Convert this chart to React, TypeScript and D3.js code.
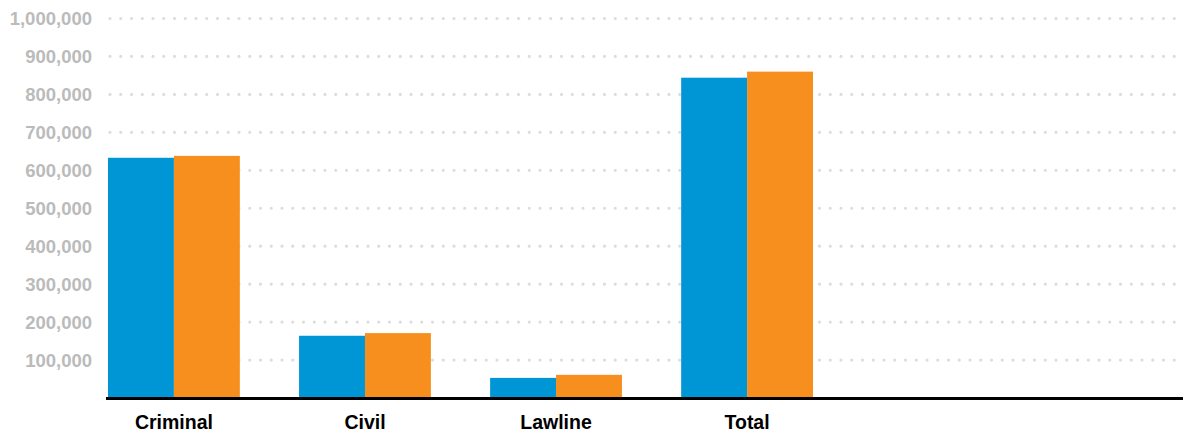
import { useEffect, useRef } from 'react'
import * as d3 from 'd3'

const categories = ['Criminal', 'Civil', 'Lawline', 'Total']
const seriesA = [633000, 164000, 53000, 844000]
const seriesB = [638000, 171000, 61000, 860000]
const yTicks = [100000, 200000, 300000, 400000, 500000, 600000, 700000, 800000, 900000, 1000000]

const W = 1183
const H = 434

export default function App() {
  const svgRef = useRef<SVGSVGElement>(null)

  useEffect(() => {
    if (!svgRef.current) return
    const svg = d3.select(svgRef.current)
    svg.selectAll('*').remove()

    const baseY = 398
    const y = d3.scaleLinear().domain([0, 1000000]).range([baseY, 18.5])
    const x0 = d3.scaleBand().domain(categories).range([108, 813]).paddingInner(0.31).paddingOuter(0)
    const x1 = d3.scaleBand().domain(['a', 'b']).range([0, x0.bandwidth()])

    // dotted gridlines
    svg.append('g')
      .selectAll('line')
      .data(yTicks)
      .join('line')
      .attr('x1', 110)
      .attr('x2', W)
      .attr('y1', d => y(d))
      .attr('y2', d => y(d))
      .attr('stroke', '#dddddd')
      .attr('stroke-width', 3.2)
      .attr('stroke-linecap', 'round')
      .attr('stroke-dasharray', '0 10.75')

    // tick labels
    svg.append('g')
      .selectAll('text')
      .data(yTicks)
      .join('text')
      .attr('x', 92)
      .attr('y', d => y(d))
      .attr('dy', '0.35em')
      .attr('text-anchor', 'end')
      .attr('fill', '#bbbbbb')
      .attr('font-family', '"Liberation Sans", Arial, sans-serif')
      .attr('font-weight', 'bold')
      .attr('font-size', 18.5)
      .text(d => d3.format(',')(d))

    // bars
    const groups = svg.append('g')
      .selectAll('g')
      .data(categories)
      .join('g')
      .attr('transform', d => `translate(${x0(d)},0)`)

    groups.append('rect')
      .attr('x', x1('a')!)
      .attr('width', x1.bandwidth())
      .attr('y', (_, i) => y(seriesA[i]))
      .attr('height', (_, i) => baseY - y(seriesA[i]))
      .attr('fill', '#0096d6')

    groups.append('rect')
      .attr('x', x1('b')!)
      .attr('width', x1.bandwidth())
      .attr('y', (_, i) => y(seriesB[i]))
      .attr('height', (_, i) => baseY - y(seriesB[i]))
      .attr('fill', '#f78f1e')

    // baseline
    svg.append('line')
      .attr('x1', 106)
      .attr('x2', W)
      .attr('y1', baseY + 0.5)
      .attr('y2', baseY + 0.5)
      .attr('stroke', '#000')
      .attr('stroke-width', 3)

    // category labels
    svg.append('g')
      .selectAll('text')
      .data(categories)
      .join('text')
      .attr('x', d => x0(d)! + x0.bandwidth() / 2)
      .attr('y', 429)
      .attr('text-anchor', 'middle')
      .attr('fill', '#000')
      .attr('font-family', '"Liberation Sans", Arial, sans-serif')
      .attr('font-weight', 'bold')
      .attr('font-size', 19.5)
      .text(d => d)
  }, [])

  return (
    <div style={{ position: 'absolute', left: 0, top: 0 }}>
      <svg ref={svgRef} width={W} height={H} style={{ display: 'block', background: '#fff' }}></svg>
    </div>
  )
}
